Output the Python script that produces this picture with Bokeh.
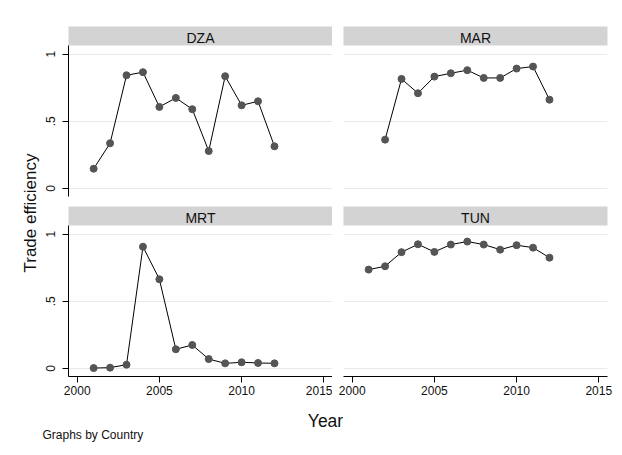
import math
from bokeh.plotting import figure
from bokeh.models import Range1d, LinearAxis, FixedTicker, Label
from bokeh.layouts import row, column
from bokeh.embed import file_html
from bokeh.resources import INLINE

# ---- data ----
countries = ["DZA", "MAR", "MRT", "TUN"]
years_dza = [2001, 2002, 2003, 2004, 2005, 2006, 2007, 2008, 2009, 2010, 2011, 2012]
eff_dza = [0.146, 0.336, 0.843, 0.866, 0.607, 0.674, 0.590, 0.278, 0.836, 0.619, 0.649, 0.313]
years_mar = [2002, 2003, 2004, 2005, 2006, 2007, 2008, 2009, 2010, 2011, 2012]
eff_mar = [0.363, 0.816, 0.709, 0.833, 0.858, 0.881, 0.823, 0.823, 0.893, 0.908, 0.661]
years_mrt = [2001, 2002, 2003, 2004, 2005, 2006, 2007, 2008, 2009, 2010, 2011, 2012]
eff_mrt = [0.002, 0.005, 0.027, 0.907, 0.664, 0.142, 0.174, 0.069, 0.037, 0.045, 0.040, 0.037]
years_tun = [2001, 2002, 2003, 2004, 2005, 2006, 2007, 2008, 2009, 2010, 2011, 2012]
eff_tun = [0.736, 0.761, 0.866, 0.925, 0.868, 0.923, 0.945, 0.923, 0.885, 0.918, 0.900, 0.825]
x_ticks = [2000, 2005, 2010, 2015]
y_ticks = [0, 0.5, 1]
y_tick_labels = {0: "0", 0.5: ".5", 1: "1"}

FONT = "Liberation Sans"
TXT = "#111111"


def panel(name, xs, ys, show_y, show_x, w, h, bl, br, bt, bb):
    p = figure(width=w, height=h, output_backend="svg", toolbar_location=None,
               x_range=Range1d(1999.47, 2015.53), y_range=Range1d(-0.061, 1.065),
               min_border_left=bl, min_border_right=br,
               min_border_top=bt, min_border_bottom=bb,
               outline_line_color=None, background_fill_color="white",
               border_fill_color="white")
    p.xgrid.visible = False
    p.ygrid.ticker = FixedTicker(ticks=y_ticks)
    p.ygrid.grid_line_color = "#e9e9e9"
    p.ygrid.grid_line_width = 1

    for ax in p.yaxis:
        ax.ticker = FixedTicker(ticks=y_ticks)
        ax.major_label_overrides = y_tick_labels
        ax.major_label_orientation = "parallel"
        ax.minor_tick_line_color = None
        ax.major_tick_out = 6
        ax.major_tick_in = 0
        ax.major_label_standoff = 7
        ax.major_label_text_font = FONT
        ax.major_label_text_font_size = "12px"
        ax.major_label_text_color = TXT
        ax.axis_line_color = "black"
        ax.major_tick_line_color = "black"
        ax.visible = show_y
    for ax in p.xaxis:
        ax.ticker = FixedTicker(ticks=x_ticks)
        ax.minor_tick_line_color = None
        ax.major_tick_out = 6
        ax.major_tick_in = 0
        ax.major_label_standoff = 3
        ax.major_label_text_font = FONT
        ax.major_label_text_font_size = "12px"
        ax.major_label_text_color = TXT
        ax.axis_line_color = "black"
        ax.major_tick_line_color = "black"
        ax.visible = show_x

    strip = LinearAxis(ticker=FixedTicker(ticks=[]), axis_label=name,
                       axis_line_color=None, major_tick_out=0, major_tick_in=0,
                       minor_tick_out=0, minor_tick_in=0, major_label_standoff=0,
                       axis_label_standoff=0, axis_label_text_font=FONT,
                       axis_label_text_font_size="14px",
                       axis_label_text_font_style="normal",
                       axis_label_text_color=TXT,
                       background_fill_color="#d3d3d3")
    p.add_layout(strip, "above")

    p.line(xs, ys, line_color="black", line_width=1)
    p.scatter(xs, ys, size=7, fill_color="#555555", line_color="#555555")
    return p


p1 = panel(countries[0], years_dza, eff_dza, True, False, 292, 206, 28, 0, 45, 10)
p2 = panel(countries[1], years_mar, eff_mar, False, False, 282, 206, 11, 7, 45, 10)
p3 = panel(countries[2], years_mrt, eff_mrt, True, True, 292, 194, 28, 0, 19, 24)
p4 = panel(countries[3], years_tun, eff_tun, False, True, 282, 194, 11, 7, 19, 24)

# left y-axis title
lab = figure(width=40, height=400, output_backend="svg", toolbar_location=None,
             x_range=Range1d(0, 40), y_range=Range1d(400, 0),
             min_border=0, outline_line_color=None)
lab.axis.visible = False
lab.grid.visible = False
lab.add_layout(Label(x=30, y=212.5, text="Trade efficiency", angle=math.pi / 2,
                     text_align="center", text_baseline="middle",
                     text_font=FONT, text_font_size="17px", text_color=TXT))

# bottom texts
bot = figure(width=614, height=52, output_backend="svg", toolbar_location=None,
             x_range=Range1d(0, 614), y_range=Range1d(52, 0),
             min_border=0, outline_line_color=None)
bot.axis.visible = False
bot.grid.visible = False
bot.add_layout(Label(x=325, y=20.5, text="Year", text_align="center",
                     text_baseline="alphabetic", text_font=FONT,
                     text_font_size="17.5px", text_color=TXT))
bot.add_layout(Label(x=42, y=34, text="Graphs by Country", text_align="left",
                     text_baseline="alphabetic", text_font=FONT,
                     text_font_size="12px", text_color=TXT))

layout = column(row(lab, column(p1, p3), column(p2, p4)), bot)

open("out.html", "w").write(file_html(layout, INLINE))
